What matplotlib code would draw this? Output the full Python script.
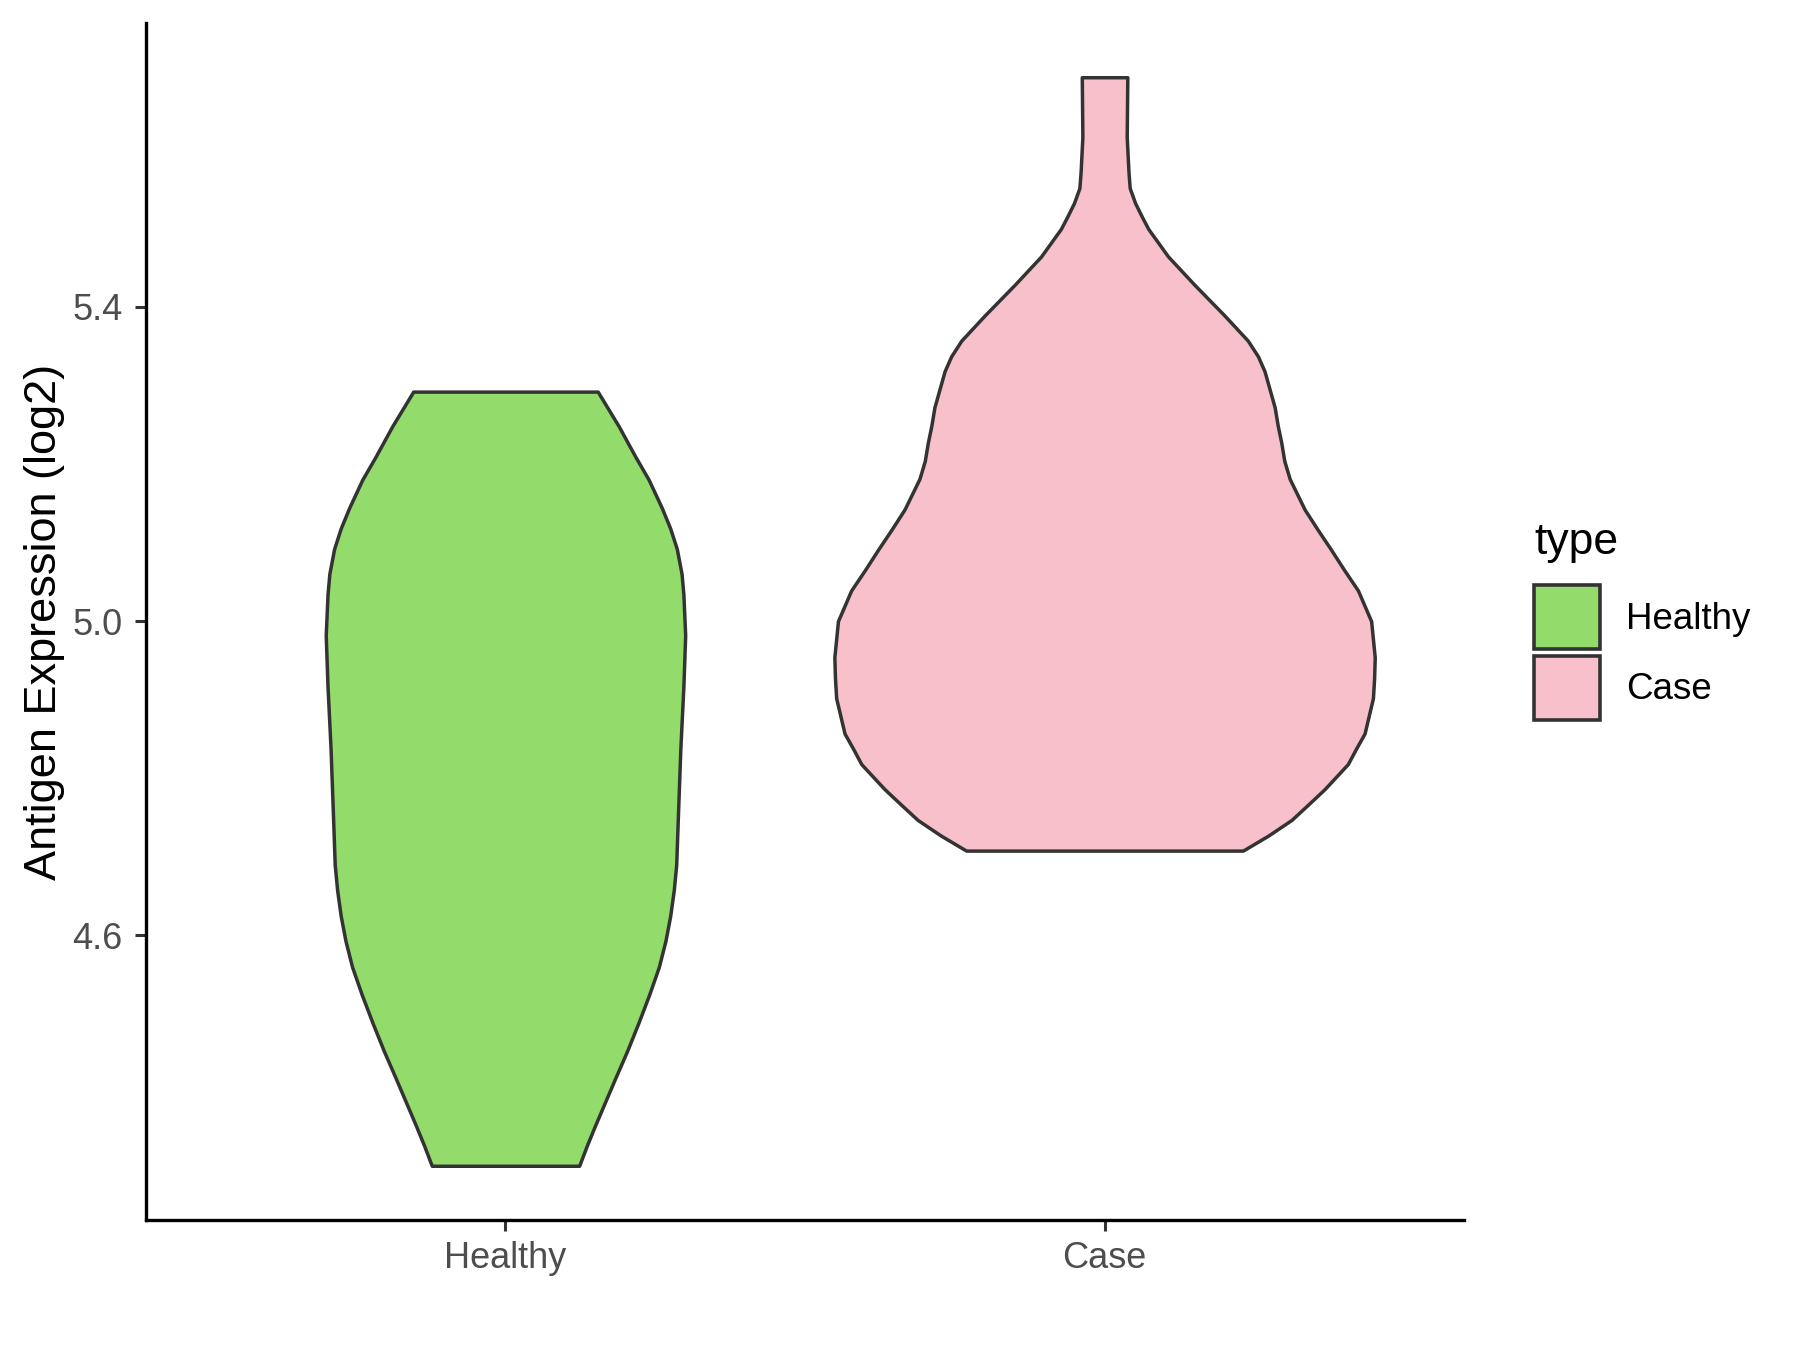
import matplotlib
matplotlib.use("Agg")
import matplotlib.pyplot as plt
from matplotlib.patches import Patch
import numpy as np

plt.rcParams['font.family'] = ['Liberation Sans', 'DejaVu Sans']

categories = ["Healthy", "Case"]
colors = ["#93DB6A", "#F7C0CB"]

# Violin outlines: y (log2 expression) and half-width
healthy_y = [5.292, 5.248, 5.209, 5.180, 5.144, 5.118, 5.092, 5.060, 5.034, 4.982, 4.917,
             4.839, 4.755, 4.690, 4.658, 4.625, 4.593, 4.560, 4.525, 4.489, 4.453, 4.418,
             4.359, 4.333, 4.307]
healthy_hw = [0.154, 0.189, 0.217, 0.239, 0.261, 0.275, 0.286, 0.294, 0.297, 0.300, 0.297,
              0.292, 0.288, 0.285, 0.281, 0.275, 0.267, 0.256, 0.240, 0.222, 0.203, 0.183,
              0.150, 0.136, 0.123]

case_y = [5.692, 5.616, 5.571, 5.551, 5.532, 5.515, 5.499, 5.464, 5.428, 5.389, 5.357,
          5.337, 5.318, 5.272, 5.249, 5.227, 5.204, 5.181, 5.142, 5.116, 5.091, 5.065,
          5.039, 5.000, 4.954, 4.928, 4.902, 4.857, 4.838, 4.818, 4.786, 4.766, 4.747,
          4.727, 4.708]
case_hw = [0.038, 0.037, 0.040, 0.042, 0.051, 0.062, 0.073, 0.106, 0.150, 0.200, 0.239,
           0.256, 0.267, 0.284, 0.289, 0.295, 0.300, 0.309, 0.334, 0.356, 0.378, 0.400,
           0.423, 0.445, 0.451, 0.450, 0.448, 0.434, 0.420, 0.406, 0.367, 0.339, 0.312,
           0.273, 0.231]

yticks = [4.6, 5.0, 5.4]
ytick_labels = ["4.6", "5.0", "5.4"]

fig = plt.figure(figsize=(18, 13.5), dpi=100)
ax = fig.add_axes([146/1800, 1-1220/1350, (1464-146)/1800, (1220-23)/1350])

profiles = [(healthy_y, healthy_hw), (case_y, case_hw)]
for i, (ys, hws) in enumerate(profiles):
    pos = i + 1
    ys = np.array(ys); hws = np.array(hws)
    ax.fill_betweenx(ys, pos - hws, pos + hws, facecolor=colors[i],
                     edgecolor="#333333", linewidth=2.5, joinstyle='round')

ax.set_xlim(0.4, 2.6)
ax.set_ylim(4.238, 5.761)
ax.set_xticks([1, 2])
ax.set_xticklabels(categories)
ax.set_yticks(yticks)
ax.set_yticklabels(ytick_labels)

for s in ["top", "right"]:
    ax.spines[s].set_visible(False)
for s in ["left", "bottom"]:
    ax.spines[s].set_linewidth(2.4)
    ax.spines[s].set_color("black")

ax.tick_params(axis='both', length=8, width=2.2, color="#333333",
               labelsize=26, labelcolor="#4D4D4D")
ax.tick_params(axis='y', pad=9)
ax.tick_params(axis='x', pad=7)
ax.set_ylabel("Antigen Expression (log2)", fontsize=32.5, labelpad=5, color="black")

handles = [Patch(facecolor=colors[i], edgecolor="#333333", linewidth=2.6, label=categories[i])
           for i in range(2)]
leg = ax.legend(handles=handles, title="type", loc="upper left",
                bbox_to_anchor=(1534/1800, 1-522/1350), bbox_transform=fig.transFigure,
                frameon=False, fontsize=26.5, title_fontsize=32, borderpad=0, borderaxespad=0,
                handlelength=1.8, handleheight=2.3, handletextpad=0.7, labelspacing=0.17)
leg._legend_box.align = "left"
leg._legend_box.sep = 16

fig.savefig("out.png", dpi=100)
